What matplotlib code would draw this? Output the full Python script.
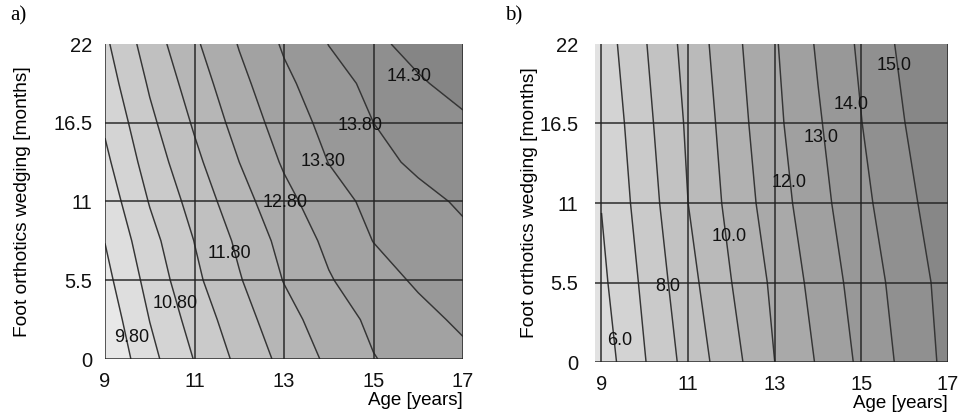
import matplotlib
matplotlib.use("Agg")
import matplotlib.pyplot as plt
import numpy as np

plt.rcParams['font.family'] = ['Liberation Sans', 'DejaVu Sans']

# ---------------- data ----------------
ages = [9, 10, 11, 12, 13, 14, 15, 16, 17]

# panel a) field, one list per wedging row
wedge_a = [0, 2.75, 5.5, 8.25, 11, 13.75, 16.5, 19.25, 22]
z_a_w00 = [9.32, 10.15, 10.82, 11.42, 11.94, 12.39, 12.78, 12.99, 13.18]
z_a_w03 = [9.48, 10.31, 11.00, 11.59, 12.11, 12.56, 12.90, 13.15, 13.39]
z_a_w05 = [9.65, 10.47, 11.19, 11.76, 12.32, 12.76, 13.09, 13.37, 13.59]
z_a_w08 = [9.81, 10.63, 11.31, 11.90, 12.46, 12.91, 13.31, 13.50, 13.69]
z_a_w11 = [10.00, 10.83, 11.49, 12.10, 12.65, 13.10, 13.43, 13.65, 13.87]
z_a_w14 = [10.19, 11.02, 11.68, 12.30, 12.86, 13.31, 13.64, 13.90, 14.09]
z_a_w16 = [10.37, 11.19, 11.86, 12.49, 13.03, 13.45, 13.80, 14.00, 14.20]
z_a_w19 = [10.55, 11.36, 12.04, 12.66, 13.19, 13.59, 13.93, 14.23, 14.51]
z_a_w22 = [10.71, 11.54, 12.22, 12.83, 13.36, 13.81, 14.17, 14.50, 14.80]
levels_a = [9.8, 10.3, 10.8, 11.3, 11.8, 12.3, 12.8, 13.3, 13.8, 14.3]
labels_a = [9.8, 10.8, 11.8, 12.8, 13.3, 13.8, 14.3]

# panel b)
wedge_b = [0, 5.5, 11, 16.5, 22]
z_b_w00 = [5.49, 6.96, 8.35, 9.64, 11.00, 12.09, 13.21, 14.25, 15.26]
z_b_w05 = [5.79, 7.21, 8.67, 9.99, 11.21, 12.37, 13.44, 14.44, 15.36]
z_b_w11 = [6.03, 7.48, 9.00, 10.29, 11.54, 12.66, 13.74, 14.72, 15.64]
z_b_w16 = [6.20, 7.71, 9.15, 10.49, 11.76, 12.89, 13.98, 14.99, 15.94]
z_b_w22 = [6.46, 7.93, 9.35, 10.69, 11.90, 13.12, 14.17, 15.25, 16.20]
levels_b = [6, 7, 8, 9, 10, 11, 12, 13, 14, 15]
labels_b = [6, 8, 10, 12, 13, 14, 15]

xticks = [9, 11, 13, 15, 17]
yticks = [0, 5.5, 11, 16.5, 22]
ytick_labels = ['0', '5.5', '11', '16.5', '22']

# ---------------- figure ----------------
fig = plt.figure(figsize=(9.6, 4.15), dpi=100)
W, H = 960, 415


def px_axes(l, t, r, b):
    return fig.add_axes([l / W, 1 - b / H, (r - l) / W, (b - t) / H])


def grays(n, light, dark):
    return [str(v) for v in np.linspace(light, dark, n)]


def draw_panel(ax, wedges, rows, levels, lab_levels, lab_pos, fmt, xlim,
               light, dark, ypad, ylabpad):
    Z = np.array(rows)
    X, Y = np.meshgrid(ages, wedges)
    ax.set_facecolor('#e2e2e2')
    ax.contourf(X, Y, Z, levels=levels, extend='both',
                colors=grays(len(levels) + 1, light, dark), zorder=1)
    ax.contour(X, Y, Z, levels=levels, colors='#353535', linewidths=1.05,
               zorder=2)
    for v in xticks:
        ax.axvline(v, color='#222222', lw=1.3, alpha=0.8, zorder=3)
    for v in yticks[:-1]:
        ax.axhline(v, color='#222222', lw=1.3, alpha=0.8, zorder=3)
    for lv, (xx, yy) in zip(lab_levels, lab_pos):
        ax.text(xx, yy, fmt % lv, ha='center', va='center', fontsize=13,
                color='#111111', zorder=4)
    ax.set_xlim(*xlim)
    ax.set_ylim(0, 22)
    ax.set_xticks(xticks)
    ax.set_xticklabels([str(v) for v in xticks])
    ax.set_yticks(yticks)
    ax.set_yticklabels(ytick_labels)
    ax.tick_params(axis='x', length=0, labelsize=14.5, pad=9,
                   colors='#111111')
    ax.tick_params(axis='y', length=0, labelsize=14.5, pad=ypad,
                   colors='#111111')
    for s in ax.spines.values():
        s.set_visible(False)
    ax.set_xlabel('Age [years]', fontsize=13.5, loc='right', labelpad=1)
    ax.set_ylabel('Foot orthotics wedging [months]', fontsize=13.8,
                  labelpad=ylabpad)


ax1 = px_axes(105, 44, 463, 359)
draw_panel(ax1, wedge_a,
           [z_a_w00, z_a_w03, z_a_w05, z_a_w08, z_a_w11, z_a_w14, z_a_w16,
            z_a_w19, z_a_w22],
           levels_a, labels_a,
           [(9.60, 1.5), (10.56, 3.9), (11.78, 7.4), (13.02, 10.9),
            (13.88, 13.8), (14.70, 16.3), (15.80, 19.7)],
           '%.2f', (9, 17), 0.91, 0.52, 9, 16)

ax2 = px_axes(595, 44, 948, 362)
draw_panel(ax2, wedge_b, [z_b_w00, z_b_w05, z_b_w11, z_b_w16, z_b_w22],
           levels_b, labels_b,
           [(9.42, 1.5), (10.52, 5.2), (11.95, 8.7), (13.34, 12.4),
            (14.07, 15.5), (14.76, 17.8), (15.75, 20.5)],
           '%.1f', (8.85, 17.0), 0.86, 0.53, 12, 1)

fig.text(10 / W, 1 - 16 / H, 'a)', family='Liberation Serif', fontsize=15,
         va='center', ha='left')
fig.text(505 / W, 1 - 16 / H, 'b)', family='Liberation Serif', fontsize=15,
         va='center', ha='left')

fig.savefig('out.png', dpi=100)
